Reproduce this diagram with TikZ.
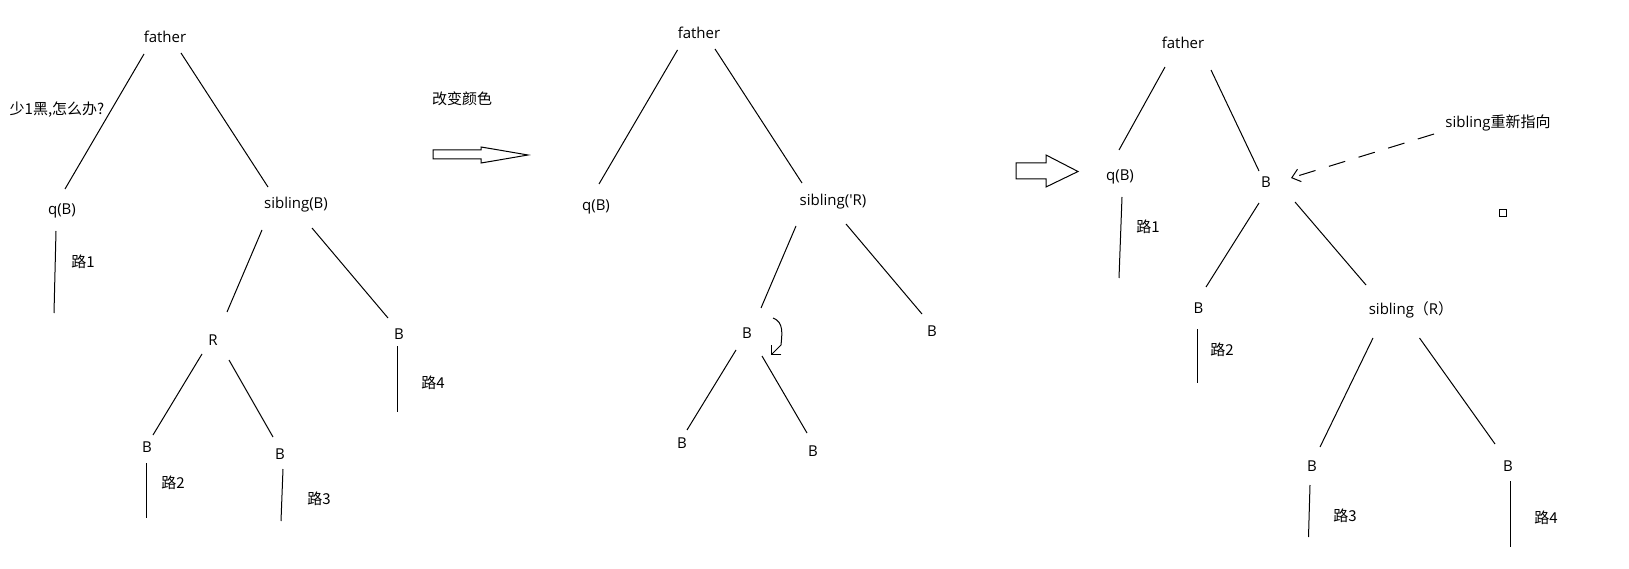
\documentclass[tikz,border=0pt]{standalone}
\usepackage{fontspec}
\setmainfont{Open Sans}
\newfontfamily\cjk{Noto Sans CJK SC}
\usetikzlibrary{arrows.meta}
\begin{document}
\begin{tikzpicture}[x=1pt,y=-1pt,line width=1pt,
  every node/.style={inner sep=0pt,font=\fontsize{15pt}{18pt}\selectfont},
  cjktext/.style={font=\fontsize{15pt}{18pt}\cjk},
  blockarrow/.style={line width=1pt,line join=miter},
  tipbarb/.style={-{Straight Barb[length=7pt,width=14pt]}}]
\path[fill=white] (0,0) rectangle (1629,569);
\useasboundingbox (0,0) rectangle (1629,569);

% ---------- first tree: before recolouring ----------
\node (f1) at (165,37) {father};
\node[cjktext] (note) at (57,110) {少1黑,怎么办?};
\node (q1) at (62,211) {q(B)};
\node (s1) at (296,205) {sibling(B)};
\node (r1) at (213,340) {R};
\node (b1d) at (399,334) {B};
\node (b1a) at (147,447) {B};
\node (b1b) at (280,454) {B};
\node[cjktext] (p11) at (83,262) {路1};
\node[cjktext] (p12) at (173,483) {路2};
\node[cjktext] (p13) at (319,499) {路3};
\node[cjktext] (p14) at (433,383) {路4};

\draw ([shift={(-21,17)}]f1.center) -- ([shift={(3,-22)}]q1.center);
\draw ([shift={(16,16)}]f1.center) -- ([shift={(-28,-18)}]s1.center);
\draw ([shift={(-34,25)}]s1.center) -- ([shift={(14,-28)}]r1.center);
\draw ([shift={(16,23)}]s1.center) -- ([shift={(-11,-16)}]b1d.center);
\draw ([shift={(-11,14)}]r1.center) -- ([shift={(6,-12)}]b1a.center);
\draw ([shift={(16,20)}]r1.center) -- ([shift={(-7,-17)}]b1b.center);

\coordinate (t11) at (54,313);
\coordinate (t12) at (146,518);
\coordinate (t13) at (281,521);
\coordinate (t14) at (397,412);
\draw ([shift={(-6,20)}]q1.center) -- (t11);
\draw ([shift={(-1,16)}]b1a.center) -- (t12);
\draw ([shift={(3,15)}]b1b.center) -- (t13);
\draw ([shift={(-2,12)}]b1d.center) -- (t14);

% ---------- step arrow 1 ----------
\node[cjktext] (step1) at (462,99) {改变颜色};
\draw[blockarrow] (433,150) -- (481,150) -- (481,147) -- (493,149) -- (528,155)
  -- (493,161) -- (481,163) -- (481,159) -- (433,159) -- cycle;

% ---------- second tree: sibling turned red ----------
\node (f2) at (699,33) {father};
\node (q2) at (596,207) {q(B)};
\node (s2) at (833,202) {sibling(\textquotesingle R)};
\node (b2c) at (747,333) {B};
\node (b2d) at (932,331) {B};
\node (b2a) at (682,443) {B};
\node (b2b) at (813,451) {B};

\draw ([shift={(-21.5,17)}]f2.center) -- ([shift={(3,-23)}]q2.center);
\draw ([shift={(16,16)}]f2.center) -- ([shift={(-31,-19)}]s2.center);
\draw ([shift={(-37,24)}]s2.center) -- ([shift={(14,-25)}]b2c.center);
\draw ([shift={(13,22)}]s2.center) -- ([shift={(-10,-17)}]b2d.center);
\draw ([shift={(-11,17)}]b2c.center) -- ([shift={(5,-13)}]b2a.center);
\draw ([shift={(15,23)}]b2c.center) -- ([shift={(-6,-18)}]b2b.center);

% small curved arrow beside the left child
\draw[tipbarb] ([shift={(26,-15)}]b2c.center) .. controls +(11,4) and +(1,-11) ..
  ([shift={(34,12)}]b2c.center) -- ([shift={(24,22)}]b2c.center);

% ---------- step arrow 2 ----------
\draw[blockarrow] (1016,163) -- (1046,163) -- (1046,155) -- (1078,171.5)
  -- (1046,187) -- (1046,179) -- (1016,179) -- cycle;

% ---------- third tree: after rotation ----------
\node (f3) at (1183,43) {father};
\node (q3) at (1120,177) {q(B)};
\node (b3) at (1266,182) {B};
\node (b3a) at (1198.5,308) {B};
\node (s3) at (1411,310) {sibling{\cjk （}R{\cjk ）}};
\node (b3c) at (1312,466) {B};
\node (b3d) at (1508,466) {B};
\node (lbl3) at (1498,123) {sibling{\cjk 重新指向}};
\node[draw,line width=1pt,minimum size=7pt] (sq) at (1502.5,213.5) {};
\node[cjktext] (p31) at (1148,227) {路1};
\node[cjktext] (p32) at (1222,350) {路2};
\node[cjktext] (p33) at (1345,516) {路3};
\node[cjktext] (p34) at (1546,518) {路4};

\draw ([shift={(-18,24)}]f3.center) -- ([shift={(-1,-27)}]q3.center);
\draw ([shift={(28,27)}]f3.center) -- ([shift={(-7,-11)}]b3.center);
\draw ([shift={(-7,21)}]b3.center) -- ([shift={(7.5,-21)}]b3a.center);
\draw ([shift={(29,20)}]b3.center) -- ([shift={(-45,-25)}]s3.center);
\draw ([shift={(-38,28)}]s3.center) -- ([shift={(8,-19)}]b3c.center);
\draw ([shift={(8.5,28)}]s3.center) -- ([shift={(-13,-22)}]b3d.center);

\coordinate (t31) at (1119,278);
\coordinate (t32) at (1197,383);
\coordinate (t33) at (1308.5,537);
\coordinate (t34) at (1510,547);
\draw ([shift={(2,20)}]q3.center) -- (t31);
\draw ([shift={(-1.5,21)}]b3a.center) -- (t32);
\draw ([shift={(-2,19)}]b3c.center) -- (t33);
\draw ([shift={(2,15)}]b3d.center) -- (t34);

% dashed pointer: sibling now refers to B
\draw[dash pattern=on 17pt off 14pt,-{Straight Barb[length=8pt,width=13pt]}]
  ([shift={(-64,11)}]lbl3.center) -- ([shift={(25,-4)}]b3.center);
\end{tikzpicture}
\end{document}
